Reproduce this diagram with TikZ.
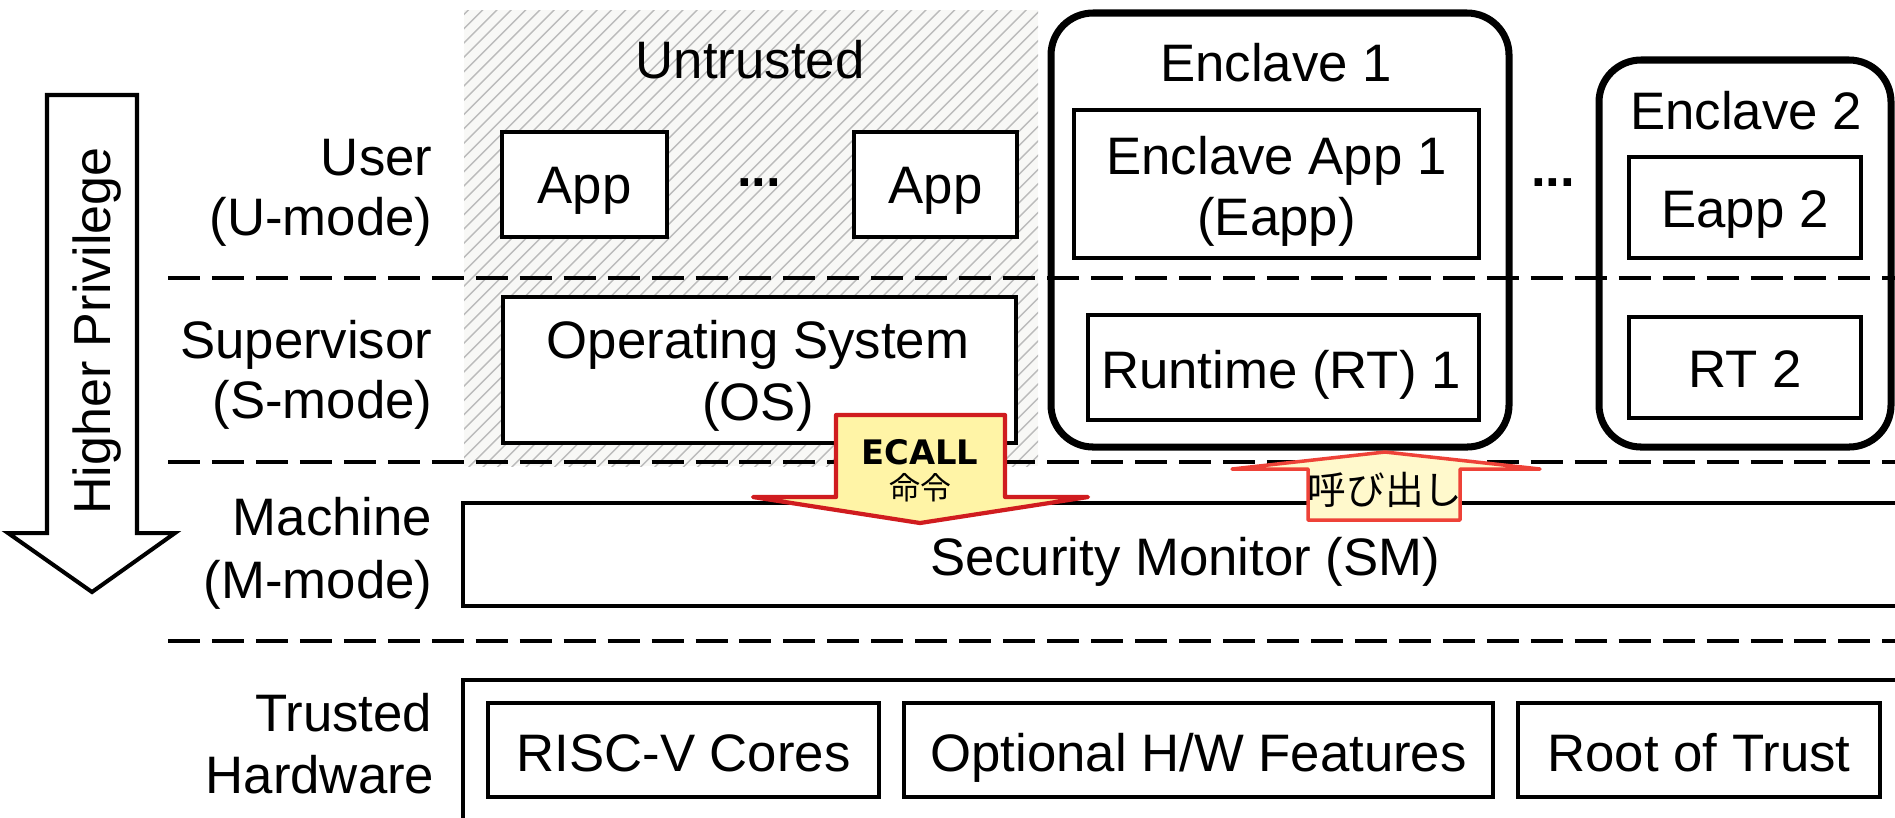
\documentclass[tikz,border=0pt]{standalone}
\usepackage{fontspec}
\setmainfont{Liberation Sans}
\newfontfamily\cjk{Noto Sans CJK JP}
\newfontfamily\heavy{DejaVu Sans}
\usetikzlibrary{fit}
\definecolor{hatchbg}{HTML}{F8F8F6}
\definecolor{hatchln}{HTML}{BBBBBB}
\definecolor{ecred}{HTML}{D01C1F}
\definecolor{ecfill}{HTML}{FFF4A6}
\definecolor{ysred}{HTML}{EE4238}
\definecolor{ysfill}{HTML}{FFF9CC}
\tikzset{
  box/.style={draw, line width=1.1pt, fill=white, inner sep=0pt},
  encl/.style={draw, line width=2pt, rounded corners=0.42cm, inner sep=0pt},
  t/.style={anchor=base, inner sep=0pt, font=\fontsize{15}{18}\selectfont},
  lbl/.style={anchor=base east, inner sep=0pt, font=\fontsize{15}{18}\selectfont},
  sep/.style={line width=1.15pt, dash pattern=on 9.1pt off 3.4pt},
}
\begin{document}
\begin{tikzpicture}[x=0.01cm, y=-0.01cm]
\useasboundingbox (0,0) rectangle (1895,817);
\clip (0,0) rectangle (1895,817);

% untrusted hatched area
\begin{scope}
  \clip (464,10) rectangle (1038,466);
  \fill[hatchbg] (464,10) rectangle (1038,466);
  \foreach \i in {0,...,76}
    \draw[hatchln, line width=0.4pt] ({-6+\i*14.3},470) -- ++(480,-480);
\end{scope}
\node[t] (untr) at (750,78) {Untrusted};

% enclave frames
\node[encl, fit={(1051,13)(1509,447)}] (enc1) {};
\node[encl, fit={(1599,60)(1891,447)}] (enc2) {};
\node[t] (enc1t) at (1276,81) {Enclave 1};
\node[t] (enc2t) at (1746,129) {Enclave 2};

% separators
\coordinate (s1a) at (168,278); \coordinate (s1b) at (1900,278);
\coordinate (s2a) at (168,462); \coordinate (s2b) at (1900,462);
\coordinate (s3a) at (168,641); \coordinate (s3b) at (1900,641);
\draw[sep] (s1a) -- (s1b);
\draw[sep] (s2a) -- (s2b);
\draw[sep] (s3a) -- (s3b);

% boxes
\node[box, fit={(502,132)(667,237)}] (app1) {};
\node[box, fit={(854,132)(1017,237)}] (app2) {};
\node[box, fit={(503,297)(1016,443)}] (os) {};
\node[box, fit={(1074,110)(1479,258)}] (eapp1) {};
\node[box, fit={(1088,315)(1479,420)}] (rt1) {};
\node[box, fit={(1629,157)(1861,258)}] (eapp2) {};
\node[box, fit={(1629,317)(1861,418)}] (rt2) {};
\node[box, fit={(463,503)(1960,606)}] (sm) {};
\node[box, fit={(463,680)(1960,900)}] (hw) {};
\node[box, fit={(488,703)(879,797)}] (cores) {};
\node[box, fit={(904,703)(1493,797)}] (opt) {};
\node[box, fit={(1518,703)(1880,797)}] (rot) {};

% texts in boxes
\node[t] at (584.5,203) {App};
\node[t] at (935.5,203) {App};
\node[t] at (759,186) {\textbf{...}};
\node[t] at (1553,186) {\textbf{...}};
\node[t] at (758,358) {Operating System};
\node[t] at (758,420) {(OS)};
\node[t] at (1276.5,174) {Enclave App 1};
\node[t] at (1276.5,235) {(Eapp)};
\node[t] at (1281,388) {Runtime (RT) 1};
\node[t] at (1745,227) {Eapp 2};
\node[t] at (1745,387) {RT 2};
\node[t] at (1185,575) {Security Monitor (SM)};
\node[t] at (683.5,771) {RISC-V Cores};
\node[t] at (1198.5,771) {Optional H/W Features};
\node[t] at (1699,771) {Root of Trust};

% left labels
\node[lbl] at (433,175) {User};
\node[lbl] at (433,235) {(U-mode)};
\node[lbl] at (433,358) {Supervisor};
\node[lbl] at (433,418) {(S-mode)};
\node[lbl] at (433,535) {Machine};
\node[lbl] at (433,598) {(M-mode)};
\node[lbl] at (433,731) {Trusted};
\node[lbl] at (435,793) {Hardware};

% privilege arrow
\draw[line width=1.15pt, fill=white] (47,95) -- (137,95) -- (137,533) -- (175,533)
  -- (92,592) -- (8,533) -- (47,533) -- cycle;
\node[rotate=90, anchor=base, inner sep=0pt, font=\fontsize{14.8}{17}\selectfont]
  (priv) at (110,331) {Higher Privilege};

% ECALL arrow
\draw[ecred, fill=ecfill, line width=1.2pt, line join=round]
  (836,415) -- (1005,415) -- (1005,497) -- (1088,497) -- (920,523)
  -- (753,497) -- (836,497) -- cycle;
\node[anchor=base, inner sep=0pt, font=\heavy\bfseries\fontsize{9.6}{10}\selectfont]
  (ecall) at (920,464) {ECALL};
\node[inner sep=0pt, font=\cjk\fontsize{8.8}{10}\selectfont] (meirei) at (920,488) {命令};

% call arrow
\draw[ysred, fill=ysfill, line width=1pt, line join=round]
  (1308,520) -- (1308,469) -- (1232,469) -- (1385,452) -- (1540,469)
  -- (1460,469) -- (1460,520) -- cycle;
\node[inner sep=0pt, font=\cjk\fontsize{11}{12}\selectfont] (yobi) at (1385,490) {呼び出し};
\end{tikzpicture}
\end{document}
